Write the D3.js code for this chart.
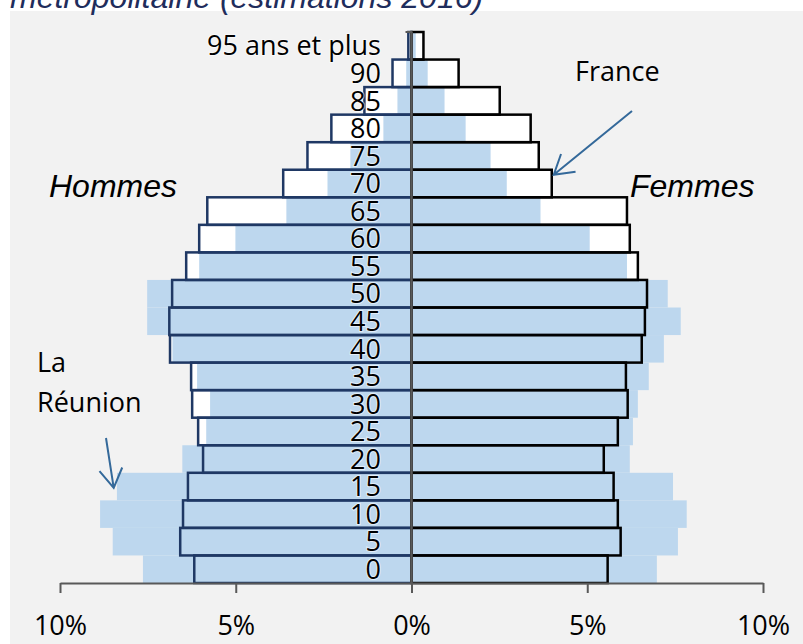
<!DOCTYPE html>
<html><head><meta charset="utf-8">
<script src="https://cdn.jsdelivr.net/npm/d3@7"></script>
<style>
body{margin:0;background:#fff;}
svg{display:block;}
</style></head>
<body>
<svg id="chart" width="803" height="644"></svg>
<script>
// ---- data (% of total population by 5-year age group) ----
const ages = ["0","5","10","15","20","25","30","35","40","45","50","55","60","65","70","75","80","85","90","95 ans et plus"];
const franceHommes  = [6.18,6.58,6.50,6.36,5.93,6.07,6.24,6.27,6.87,6.89,6.81,6.41,6.04,5.81,3.65,2.96,2.28,1.34,0.54,0.09];
const franceFemmes  = [5.58,5.95,5.87,5.75,5.47,5.87,6.15,6.10,6.55,6.64,6.70,6.44,6.21,6.13,3.99,3.62,3.39,2.51,1.34,0.34];
const reunionHommes = [7.64,8.50,8.86,8.38,6.52,5.84,5.73,6.10,6.80,7.52,7.52,6.04,5.01,3.56,2.39,1.74,0.80,0.40,0.15,0.04];
const reunionFemmes = [6.98,7.58,7.83,7.44,6.21,6.30,6.44,6.75,7.18,7.66,7.29,6.13,5.07,3.67,2.71,2.25,1.54,0.94,0.46,0.12];
const tickValues = [-10,-5,0,5,10];
const titleText = "métropolitaine (estimations 2016)";

const svg = d3.select("#chart");
const W = 803, H = 644;
const x = d3.scaleLinear().domain([-10,10]).range([60,763]);
const y = d3.scaleBand().domain(ages).range([583,32]).padding(0);
const x0 = x(0);
const calibri = "'Open Sans', sans-serif";

// background
svg.append("rect").attr("x",10).attr("y",11).attr("width",W-10).attr("height",H-11).attr("fill","#f2f2f2");
svg.append("text").attr("x",10).attr("y",8).attr("font-family","'Liberation Sans', Arial, sans-serif")
  .attr("font-style","italic").attr("font-size",32).attr("fill","#1f2d5c").text(titleText);

const rows = ages.map((a,i)=>({age:a, fh:franceHommes[i], ff:franceFemmes[i], rh:reunionHommes[i], rf:reunionFemmes[i]}));

// France white fill
const g = svg.append("g");
g.selectAll("rect.fhFill").data(rows).join("rect").attr("class","fhFill")
  .attr("x",d=>x(-d.fh)).attr("y",d=>y(d.age)).attr("width",d=>x0-x(-d.fh)).attr("height",y.bandwidth()).attr("fill","#fff");
g.selectAll("rect.ffFill").data(rows).join("rect").attr("class","ffFill")
  .attr("x",x0).attr("y",d=>y(d.age)).attr("width",d=>x(d.ff)-x0).attr("height",y.bandwidth()).attr("fill","#fff");
// La Réunion
const blue = "#bdd7ee";
g.selectAll("rect.rh").data(rows).join("rect").attr("class","rh")
  .attr("x",d=>x(-d.rh)).attr("y",d=>y(d.age)).attr("width",d=>x0-x(-d.rh)).attr("height",y.bandwidth()).attr("fill",blue);
g.selectAll("rect.rf").data(rows).join("rect").attr("class","rf")
  .attr("x",x0).attr("y",d=>y(d.age)).attr("width",d=>x(d.rf)-x0).attr("height",y.bandwidth()).attr("fill",blue);
// France outlines
g.selectAll("rect.fh").data(rows).join("rect").attr("class","fh")
  .attr("x",d=>x(-d.fh)).attr("y",d=>y(d.age)).attr("width",d=>x0-x(-d.fh)).attr("height",y.bandwidth())
  .attr("fill","none").attr("stroke","#1f3864").attr("stroke-width",2.5);
g.selectAll("rect.ff").data(rows).join("rect").attr("class","ff")
  .attr("x",x0).attr("y",d=>y(d.age)).attr("width",d=>x(d.ff)-x0).attr("height",y.bandwidth())
  .attr("fill","none").attr("stroke","#000").attr("stroke-width",2.5);

// vertical category axis
const axisCol = "#595959";
svg.append("line").attr("x1",x0).attr("x2",x0).attr("y1",y.range()[1]).attr("y2",y.range()[0])
  .attr("stroke",axisCol).attr("stroke-width",2.5);
svg.append("line").attr("x1",x0-6).attr("x2",x0+1).attr("y1",y.range()[1]).attr("y2",y.range()[1])
  .attr("stroke",axisCol).attr("stroke-width",2);

// age labels
svg.append("g").selectAll("text").data(ages).join("text")
  .attr("x",381).attr("y",d=>y(d)+y.bandwidth()/2).attr("dy","0.36em")
  .attr("text-anchor","end").attr("font-family",calibri).attr("font-size",27).attr("fill","#000")
  .attr("stroke","#fff").attr("stroke-width",2).attr("stroke-opacity",0.6).attr("paint-order","stroke")
  .text(d=>d);

// bottom axis
const xAxis = d3.axisBottom(x).tickValues(tickValues).tickFormat(d=>Math.abs(d)+"%").tickSize(10).tickSizeOuter(0);
const ax = svg.append("g").attr("transform",`translate(0,${y.range()[0]})`).call(xAxis);
ax.select(".domain").attr("stroke",axisCol).attr("stroke-width",2);
ax.selectAll(".tick line").attr("stroke",axisCol).attr("stroke-width",2);
ax.selectAll(".tick text").attr("y",52).attr("dy",0).attr("font-family",calibri).attr("font-size",27).attr("fill","#000");

// side labels
const ital = "'Liberation Sans', Arial, sans-serif";
svg.append("text").attr("x",49).attr("y",197).attr("font-family",ital).attr("font-style","italic").attr("font-size",32).text("Hommes");
svg.append("text").attr("x",630).attr("y",197).attr("font-family",ital).attr("font-style","italic").attr("font-size",32).text("Femmes");
svg.append("text").attr("x",575).attr("y",81).attr("font-family",calibri).attr("font-size",27).text("France");
svg.append("text").attr("x",37).attr("y",372).attr("font-family",calibri).attr("font-size",27).text("La");
svg.append("text").attr("x",37).attr("y",412).attr("font-family",calibri).attr("font-size",27).text("Réunion");

// arrows
const arrowCol = "#34699a";
function arrow(x1,y1,x2,y2){
  const ang = Math.atan2(y1-y2,x1-x2), L = 22, a = 0.55;
  const p = d3.path();
  p.moveTo(x1,y1); p.lineTo(x2,y2);
  p.moveTo(x2+L*Math.cos(ang-a), y2+L*Math.sin(ang-a)); p.lineTo(x2,y2);
  p.lineTo(x2+L*Math.cos(ang+a), y2+L*Math.sin(ang+a));
  svg.append("path").attr("d",p.toString()).attr("fill","none").attr("stroke",arrowCol).attr("stroke-width",2);
}
arrow(632,111, x(franceFemmes[14])+2, y("70")+5);
arrow(106,438, x(-reunionHommes[1])+1, y("15")+15);
</script>
</body></html>
